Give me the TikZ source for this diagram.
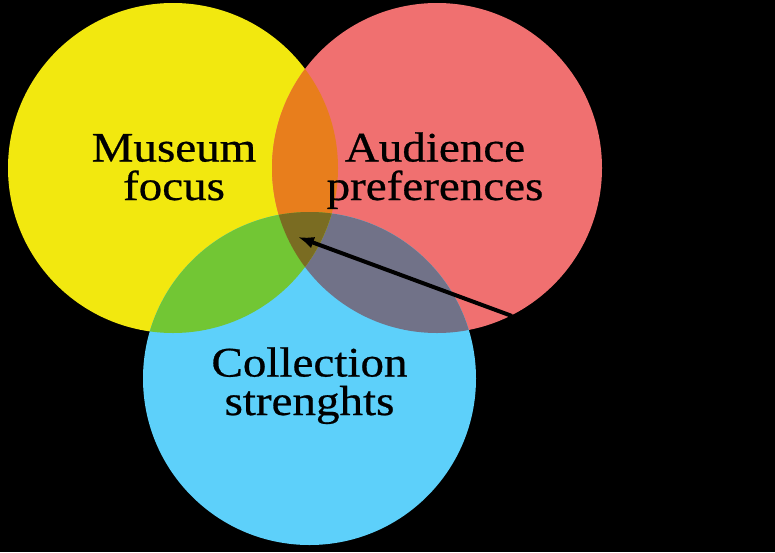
\documentclass[tikz,border=0pt]{standalone}
\usepackage{fontspec}
\usetikzlibrary{arrows.meta}
\setmainfont[FakeStretch=1.12,FakeBold=0.6]{Liberation Serif}
\definecolor{museumyellow}{HTML}{F2E80F}
\definecolor{audiencered}{HTML}{F07070}
\definecolor{collectionblue}{HTML}{5DD0FA}
\definecolor{focusorange}{HTML}{E87E1C}
\definecolor{focusgreen}{HTML}{72C634}
\definecolor{audienceslate}{HTML}{717288}
\definecolor{allolive}{HTML}{7A6C22}
\tikzset{label text/.style={font=\fontsize{42}{38.5}\selectfont, align=center, anchor=base, inner sep=0pt}}
\begin{document}
\begin{tikzpicture}[x=1pt,y=-1pt]
\fill [black] (0,0) rectangle (775,552);

\fill [museumyellow] (173,168) circle (165pt);
\fill [audiencered] (437,168) circle (165pt);
\fill [collectionblue] (309.5,378.5) circle (166.5pt);

\begin{scope}
\clip (437,168) circle (165pt);
\fill [audienceslate] (309.5,378.5) circle (166.5pt);
\end{scope}
\begin{scope}
\clip (173,168) circle (165pt);
\fill [focusorange] (437,168) circle (165pt);
\fill [focusgreen] (309.5,378.5) circle (166.5pt);
\clip (437,168) circle (165pt);
\fill [allolive] (309.5,378.5) circle (166.5pt);
\end{scope}

\node [label text] (museum) at (174,200) {Museum\\focus};
\node [label text] (audience) at (435,200) {Audience\\preferences};
\node [label text] (collection) at (309.5,415) {Collection\\strenghts};

\coordinate (from) at (512,316);
\coordinate (center) at (298,237);
\draw [-{Latex[length=16pt,width=12pt]}, line width=4pt] (from) -- (center);
\end{tikzpicture}
\end{document}
